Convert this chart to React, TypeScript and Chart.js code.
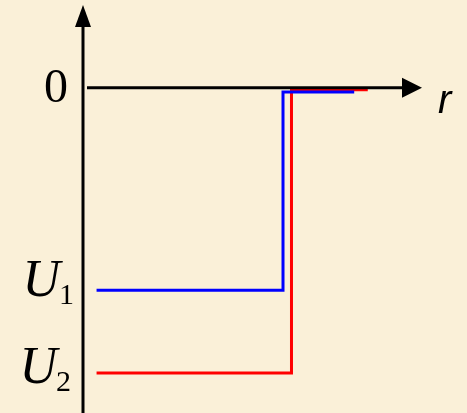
import React, { useEffect, useRef } from "react";
import { Chart, registerables } from "chart.js";

Chart.register(...registerables);

// Radial coordinate (arbitrary units) and potential energy for the two wells
const wellOneR = [0.4, 5.9, 5.9, 8.0];
const wellOneU = [-7.1, -7.1, -0.15, -0.15];
const wellTwoR = [0.4, 6.15, 6.15, 8.4];
const wellTwoU = [-10, -10, -0.07, -0.07];

const axisLabels = ["0", "U", "U"];
const axisValues = [0, -7.1, -10];
const subscripts = ["", "1", "2"];
const axisTitle = "r";

const toPoints = (xs: number[], ys: number[]) => xs.map((x, i) => ({ x, y: ys[i] }));

const axesPlugin = {
  id: "potentialAxes",
  beforeDraw(chart: any) {
    const { ctx, width, height } = chart;
    ctx.save();
    ctx.fillStyle = "#FAF0D8";
    ctx.fillRect(0, 0, width, height);
    ctx.restore();
  },
  afterDatasetsDraw(chart: any) {
    const { ctx, chartArea, height } = chart;
    const xs = chart.scales.x;
    const ys = chart.scales.y;
    const x0 = xs.getPixelForValue(0);
    const y0 = ys.getPixelForValue(0);
    const xTip = xs.getPixelForValue(xs.max);
    const yTip = chartArea.top;

    ctx.save();
    ctx.strokeStyle = "#000";
    ctx.fillStyle = "#000";
    ctx.lineWidth = 3;

    // vertical axis with arrow
    ctx.beginPath();
    ctx.moveTo(x0, height);
    ctx.lineTo(x0, yTip + 18);
    ctx.stroke();
    ctx.beginPath();
    ctx.moveTo(x0, yTip);
    ctx.lineTo(x0 - 8, yTip + 22);
    ctx.lineTo(x0 + 8, yTip + 22);
    ctx.closePath();
    ctx.fill();

    // horizontal axis with arrow
    ctx.beginPath();
    ctx.moveTo(x0 + 4, y0);
    ctx.lineTo(xTip - 16, y0);
    ctx.stroke();
    ctx.beginPath();
    ctx.moveTo(xTip, y0);
    ctx.lineTo(xTip - 20, y0 - 10);
    ctx.lineTo(xTip - 20, y0 + 10);
    ctx.closePath();
    ctx.fill();

    // axis title
    ctx.font = "italic 40px 'Liberation Sans', Arial, sans-serif";
    ctx.textAlign = "left";
    ctx.textBaseline = "alphabetic";
    ctx.fillText(axisTitle, xTip + 16, y0 + 25);

    // value labels on the vertical axis
    axisLabels.forEach((label, i) => {
      const y = ys.getPixelForValue(axisValues[i]);
      if (!subscripts[i]) {
        ctx.font = "48px 'Liberation Serif', 'Times New Roman', serif";
        ctx.textAlign = "right";
        ctx.fillText(label, x0 - 15, y + 14);
      } else {
        const baseOffset = i === 1 ? 6 : 10;
        const right = i === 1 ? 60 : 57;
        ctx.font = "italic 52px 'Liberation Serif', 'Times New Roman', serif";
        ctx.textAlign = "right";
        ctx.fillText(label, right, y + baseOffset);
        ctx.font = "30px 'Liberation Serif', 'Times New Roman', serif";
        ctx.textAlign = "left";
        ctx.fillText(subscripts[i], right - 1, y + baseOffset + 8);
      }
    });
    ctx.restore();
  },
};

export default function App() {
  const canvasRef = useRef<HTMLCanvasElement | null>(null);

  useEffect(() => {
    document.body.style.margin = "0";
    const canvas = canvasRef.current;
    if (!canvas) return;
    const chart = new Chart(canvas, {
      type: "line",
      data: {
        datasets: [
          {
            label: "U1",
            data: toPoints(wellOneR, wellOneU),
            borderColor: "#0000FF",
            borderWidth: 3,
            pointRadius: 0,
            tension: 0,
            clip: false as any,
          },
          {
            label: "U2",
            data: toPoints(wellTwoR, wellTwoU),
            borderColor: "#FF0000",
            borderWidth: 3,
            pointRadius: 0,
            tension: 0,
            clip: false as any,
          },
        ],
      },
      options: {
        animation: false,
        responsive: false,
        maintainAspectRatio: false,
        layout: { padding: { left: 83, right: 45, top: 5, bottom: 0 } },
        plugins: {
          legend: { display: false },
          tooltip: { enabled: false },
        },
        scales: {
          x: { type: "linear", min: 0, max: 10, display: false },
          y: { type: "linear", min: -11.4, max: 2.9, display: false },
        },
      },
      plugins: [axesPlugin],
    });
    return () => chart.destroy();
  }, []);

  return (
    <div style={{ position: "fixed", left: 0, top: 0, width: 467, height: 413 }}>
      <canvas ref={canvasRef} width={467} height={413} />
    </div>
  );
}
